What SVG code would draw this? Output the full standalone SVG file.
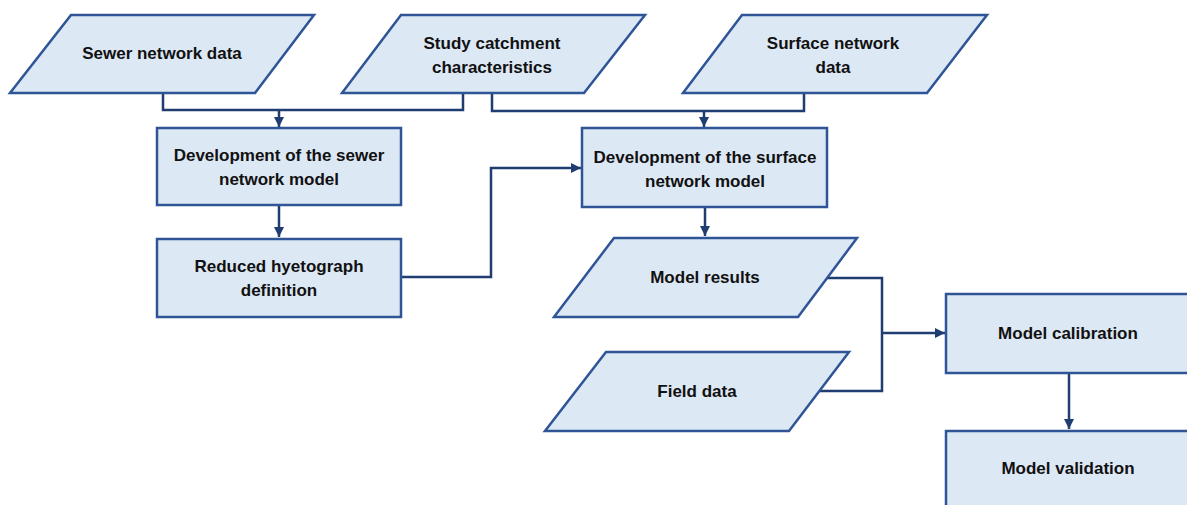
<svg xmlns="http://www.w3.org/2000/svg" width="1187" height="505" viewBox="0 0 1187 505">
<style>
.shape{fill:#dde8f5;stroke:#2f5597;stroke-width:2.5}
.lbl{font-family:"Liberation Sans",Arial,sans-serif;font-weight:bold;font-size:17px;fill:#111;text-anchor:middle}
.conn{fill:none;stroke:#203d72;stroke-width:2.5}
</style>
<defs>
<marker id="arr" viewBox="0 0 10 10" refX="10" refY="5" markerWidth="4" markerHeight="4" orient="auto" markerUnits="strokeWidth">
<path d="M0,0 L10,5 L0,10 z" fill="#203d72"/>
</marker>
</defs>
<rect width="1187" height="505" fill="#fff"/>
<g id="connectors">
<path class="conn" d="M163,93 V110 H463 V93"/>
<path class="conn" d="M279,110 V127" marker-end="url(#arr)"/>
<path class="conn" d="M492,93 V111 H804 V93"/>
<path class="conn" d="M704,111 V127" marker-end="url(#arr)"/>
<path class="conn" d="M279,205 V237" marker-end="url(#arr)"/>
<path class="conn" d="M401,277 H491 V168 H581" marker-end="url(#arr)"/>
<path class="conn" d="M705,207 V236" marker-end="url(#arr)"/>
<path class="conn" d="M827,278 H882 V391 H818"/>
<path class="conn" d="M882,333 H945" marker-end="url(#arr)"/>
<path class="conn" d="M1069,373 V429" marker-end="url(#arr)"/>
</g>
<g id="sewer-data">
<polygon class="shape" points="71,15 314,15 255,93 10,93"/>
<text class="lbl" x="162" y="59">Sewer network data</text>
</g>
<g id="catchment">
<polygon class="shape" points="401,15 645,15 584,93 342,93"/>
<text class="lbl" x="492" y="49">Study catchment</text>
<text class="lbl" x="492" y="73">characteristics</text>
</g>
<g id="surface-data">
<polygon class="shape" points="742,15 987,15 927,93 683,93"/>
<text class="lbl" x="833" y="49">Surface network</text>
<text class="lbl" x="833" y="73">data</text>
</g>
<g id="sewer-model">
<rect class="shape" x="157" y="128" width="244" height="77"/>
<text class="lbl" x="279" y="161">Development of the sewer</text>
<text class="lbl" x="279" y="185">network model</text>
</g>
<g id="hyetograph">
<rect class="shape" x="157" y="239" width="244" height="78"/>
<text class="lbl" x="279" y="272">Reduced hyetograph</text>
<text class="lbl" x="279" y="296">definition</text>
</g>
<g id="surface-model">
<rect class="shape" x="582" y="128" width="245" height="79"/>
<text class="lbl" x="705" y="163">Development of the surface</text>
<text class="lbl" x="705" y="187">network model</text>
</g>
<g id="model-results">
<polygon class="shape" points="614,238 857,238 798,317 554,317"/>
<text class="lbl" x="705" y="283">Model results</text>
</g>
<g id="field-data">
<polygon class="shape" points="606,352 849,352 789,431 545,431"/>
<text class="lbl" x="697" y="397">Field data</text>
</g>
<g id="calibration">
<rect class="shape" x="946" y="294" width="250" height="79"/>
<text class="lbl" x="1068" y="339">Model calibration</text>
</g>
<g id="validation">
<rect class="shape" x="946" y="431" width="250" height="90"/>
<text class="lbl" x="1068" y="474">Model validation</text>
</g>
</svg>
